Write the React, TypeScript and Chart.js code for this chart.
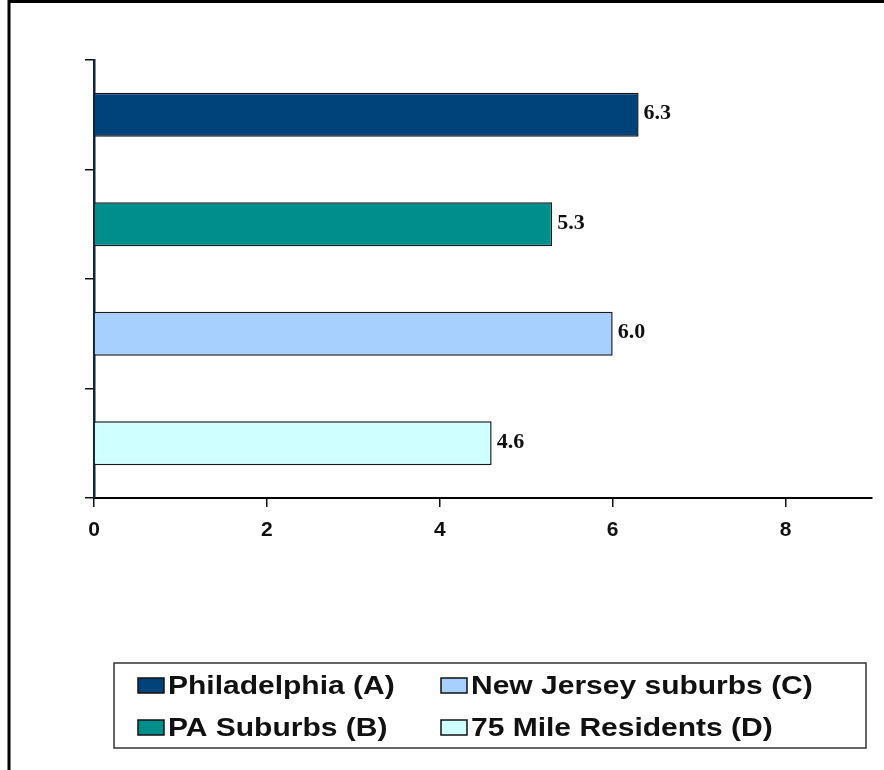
import React, { useEffect, useRef } from "react";
import { Chart, registerables } from "chart.js";

Chart.register(...registerables);

const categories = ["Philadelphia (A)", "PA Suburbs (B)", "New Jersey suburbs (C)", "75 Mile Residents (D)"];
const values = [6.3, 5.3, 6.0, 4.6];
const barColors = ["#00427A", "#008E8C", "#A8D0FF", "#D0FFFF"];
const xTicks = [0, 2, 4, 6, 8];

const framePlugin = {
  id: "frame",
  afterDraw(chart: any) {
    const ctx = chart.ctx;
    ctx.save();
    ctx.strokeStyle = "#000";
    ctx.lineWidth = 3;
    ctx.beginPath();
    ctx.moveTo(9, 770);
    ctx.lineTo(9, 1.5);
    ctx.lineTo(884, 1.5);
    ctx.stroke();
    ctx.restore();
  },
};

const valueLabelPlugin = {
  id: "valueLabels",
  afterDatasetsDraw(chart: any) {
    const ctx = chart.ctx;
    const meta = chart.getDatasetMeta(0);
    ctx.save();
    ctx.font = 'bold 22px "Liberation Serif", "Times New Roman", serif';
    ctx.fillStyle = "#111";
    ctx.textAlign = "left";
    ctx.textBaseline = "middle";
    meta.data.forEach((bar: any, i: number) => {
      ctx.fillText(values[i].toFixed(1), bar.x + 5, bar.y - 1);
    });
    ctx.restore();
  },
};

const boxLegendPlugin = {
  id: "boxLegend",
  afterDraw(chart: any) {
    const ctx = chart.ctx;
    ctx.save();
    ctx.strokeStyle = "#333";
    ctx.lineWidth = 1.5;
    ctx.strokeRect(114, 663, 752, 85);
    const cols = [138, 441];
    const rows = [686, 728];
    ctx.font = 'bold 25px "Liberation Sans", Arial, sans-serif';
    ctx.textBaseline = "middle";
    ctx.textAlign = "left";
    categories.forEach((name, i) => {
      const col = Math.floor(i / 2);
      const row = i % 2;
      const x = cols[col];
      const y = rows[row];
      ctx.fillStyle = barColors[i];
      ctx.fillRect(x, y - 8, 26, 15);
      ctx.strokeStyle = "#111";
      ctx.lineWidth = 1.5;
      ctx.strokeRect(x, y - 8, 26, 15);
      ctx.fillStyle = "#111";
      ctx.save();
      ctx.translate(x + 30, y + 1);
      ctx.scale(1.2, 1);
      ctx.fillText(name, 0, 0);
      ctx.restore();
    });
    ctx.restore();
  },
};

export default function App() {
  const ref = useRef<HTMLCanvasElement>(null);
  useEffect(() => {
    if (!ref.current) return;
    const chart = new Chart(ref.current, {
      type: "bar",
      data: {
        labels: categories,
        datasets: [
          {
            data: values,
            backgroundColor: barColors,
            borderColor: "#1a1a1a",
            borderWidth: 1.5,
            barPercentage: 0.4,
            categoryPercentage: 1,
          },
        ],
      },
      options: {
        indexAxis: "y",
        responsive: false,
        animation: false,
        layout: { padding: { left: 85, top: 60, right: 12, bottom: 222 } },
        plugins: {
          legend: { display: false },
          tooltip: { enabled: false },
        },
        scales: {
          x: {
            min: 0,
            max: 9,
            afterBuildTicks: (scale: any) => {
              scale.ticks = xTicks.map((v) => ({ value: v }));
            },
            afterFit: (scale: any) => {
              scale.height = 50;
            },
            grid: {
              drawOnChartArea: false,
              drawTicks: true,
              tickLength: 9,
              color: "#111",
              lineWidth: 1.5,
            },
            border: { display: true, color: "#000", width: 2 },
            ticks: {
              color: "#111",
              padding: 11,
              font: { family: '"Liberation Sans", Arial, sans-serif', size: 21, weight: "bold" },
            },
          },
          y: {
            afterFit: (scale: any) => {
              scale.width = 9;
            },
            grid: {
              offset: true,
              drawOnChartArea: false,
              drawTicks: true,
              tickLength: 9,
              color: "#111",
              lineWidth: 1.5,
            },
            border: { display: true, color: "#0b2440", width: 2.5 },
            ticks: { display: false },
          },
        },
      },
      plugins: [framePlugin, valueLabelPlugin, boxLegendPlugin],
    });
    return () => chart.destroy();
  }, []);
  return (
    <div style={{ position: "absolute", left: 0, top: 0, width: 884, height: 770, background: "#fff" }}>
      <canvas ref={ref} width={884} height={770} style={{ display: "block" }} />
    </div>
  );
}
